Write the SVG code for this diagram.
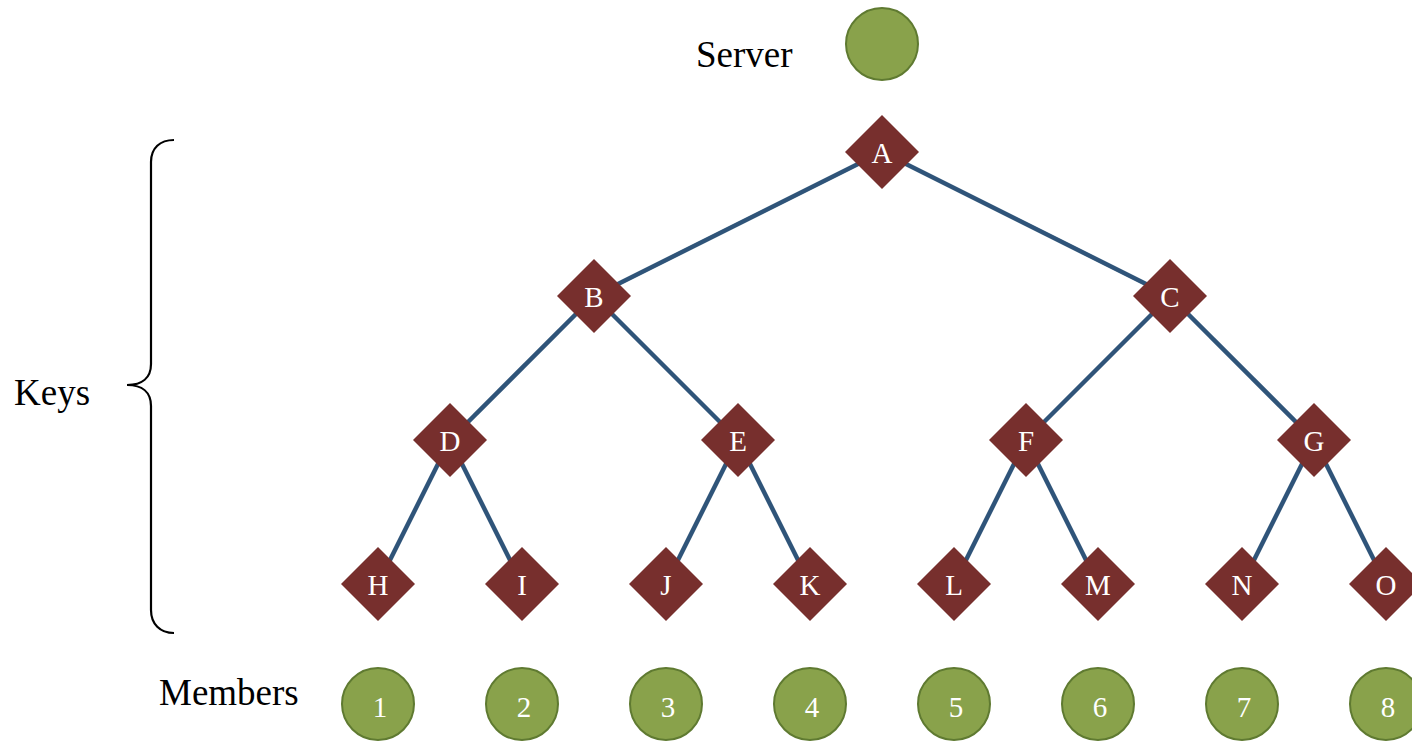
<svg xmlns="http://www.w3.org/2000/svg" width="1412" height="741" viewBox="0 0 1412 741">
  <style>
    .edge { stroke: #2F5479; stroke-width: 4.5; fill: none; }
    .key { fill: #772F2D; }
    .member { fill: #89A24B; stroke: #5F7A31; stroke-width: 2; }
    .nl { font-family: "Liberation Serif", "Times New Roman", serif; font-size: 29px; fill: #FFFFFF; text-anchor: middle; }
    .lbl { font-family: "Liberation Serif", "Times New Roman", serif; font-size: 37px; fill: #000000; }
    .brace { stroke: #000000; stroke-width: 2.2; fill: none; }
  </style>
  <defs>
    <path id="dia" d="M0,-37 L37,0 L0,37 L-37,0 Z"/>
  </defs>
  <rect width="1412" height="741" fill="#FFFFFF"/>

  <!-- tree edges -->
  <g id="connectors">
    <line class="edge" x1="882" y1="152" x2="594" y2="296"/>
    <line class="edge" x1="882" y1="152" x2="1170" y2="296"/>
    <line class="edge" x1="594" y1="296" x2="450" y2="440"/>
    <line class="edge" x1="594" y1="296" x2="738" y2="440"/>
    <line class="edge" x1="1170" y1="296" x2="1026" y2="440"/>
    <line class="edge" x1="1170" y1="296" x2="1314" y2="440"/>
    <line class="edge" x1="450" y1="440" x2="378" y2="584"/>
    <line class="edge" x1="450" y1="440" x2="522" y2="584"/>
    <line class="edge" x1="738" y1="440" x2="666" y2="584"/>
    <line class="edge" x1="738" y1="440" x2="810" y2="584"/>
    <line class="edge" x1="1026" y1="440" x2="954" y2="584"/>
    <line class="edge" x1="1026" y1="440" x2="1098" y2="584"/>
    <line class="edge" x1="1314" y1="440" x2="1242" y2="584"/>
    <line class="edge" x1="1314" y1="440" x2="1386" y2="584"/>
  </g>

  <!-- labels -->
  <text class="lbl" x="696" y="67">Server</text>
  <text class="lbl" x="14" y="405">Keys</text>
  <text class="lbl" x="159" y="705">Members</text>
  <path class="brace" d="M174,140 C160,140 151,148 151,162 L151,364 C151,378 142,385 127,385 C142,385 151,392 151,406 L151,610 C151,624 160,633 174,633"/>

  <!-- server -->
  <g id="server">
    <circle class="member" cx="882" cy="44" r="36"/>
  </g>

  <!-- key nodes -->
  <g id="A"><use href="#dia" class="key" x="882" y="152"/><text class="nl" x="882" y="163">A</text></g>
  <g id="B"><use href="#dia" class="key" x="594" y="296"/><text class="nl" x="594" y="307">B</text></g>
  <g id="C"><use href="#dia" class="key" x="1170" y="296"/><text class="nl" x="1170" y="307">C</text></g>
  <g id="D"><use href="#dia" class="key" x="450" y="440"/><text class="nl" x="450" y="451">D</text></g>
  <g id="E"><use href="#dia" class="key" x="738" y="440"/><text class="nl" x="738" y="451">E</text></g>
  <g id="F"><use href="#dia" class="key" x="1026" y="440"/><text class="nl" x="1026" y="451">F</text></g>
  <g id="G"><use href="#dia" class="key" x="1314" y="440"/><text class="nl" x="1314" y="451">G</text></g>
  <g id="H"><use href="#dia" class="key" x="378" y="584"/><text class="nl" x="378" y="595">H</text></g>
  <g id="I"><use href="#dia" class="key" x="522" y="584"/><text class="nl" x="522" y="595">I</text></g>
  <g id="J"><use href="#dia" class="key" x="666" y="584"/><text class="nl" x="666" y="595">J</text></g>
  <g id="K"><use href="#dia" class="key" x="810" y="584"/><text class="nl" x="810" y="595">K</text></g>
  <g id="L"><use href="#dia" class="key" x="954" y="584"/><text class="nl" x="954" y="595">L</text></g>
  <g id="M"><use href="#dia" class="key" x="1098" y="584"/><text class="nl" x="1098" y="595">M</text></g>
  <g id="N"><use href="#dia" class="key" x="1242" y="584"/><text class="nl" x="1242" y="595">N</text></g>
  <g id="O"><use href="#dia" class="key" x="1386" y="584"/><text class="nl" x="1386" y="595">O</text></g>

  <!-- members -->
  <g id="m1"><circle class="member" cx="378" cy="704" r="36"/><text class="nl" x="380" y="717">1</text></g>
  <g id="m2"><circle class="member" cx="522" cy="704" r="36"/><text class="nl" x="524" y="717">2</text></g>
  <g id="m3"><circle class="member" cx="666" cy="704" r="36"/><text class="nl" x="668" y="717">3</text></g>
  <g id="m4"><circle class="member" cx="810" cy="704" r="36"/><text class="nl" x="812" y="717">4</text></g>
  <g id="m5"><circle class="member" cx="954" cy="704" r="36"/><text class="nl" x="956" y="717">5</text></g>
  <g id="m6"><circle class="member" cx="1098" cy="704" r="36"/><text class="nl" x="1100" y="717">6</text></g>
  <g id="m7"><circle class="member" cx="1242" cy="704" r="36"/><text class="nl" x="1244" y="717">7</text></g>
  <g id="m8"><circle class="member" cx="1386" cy="704" r="36"/><text class="nl" x="1388" y="717">8</text></g>
</svg>
